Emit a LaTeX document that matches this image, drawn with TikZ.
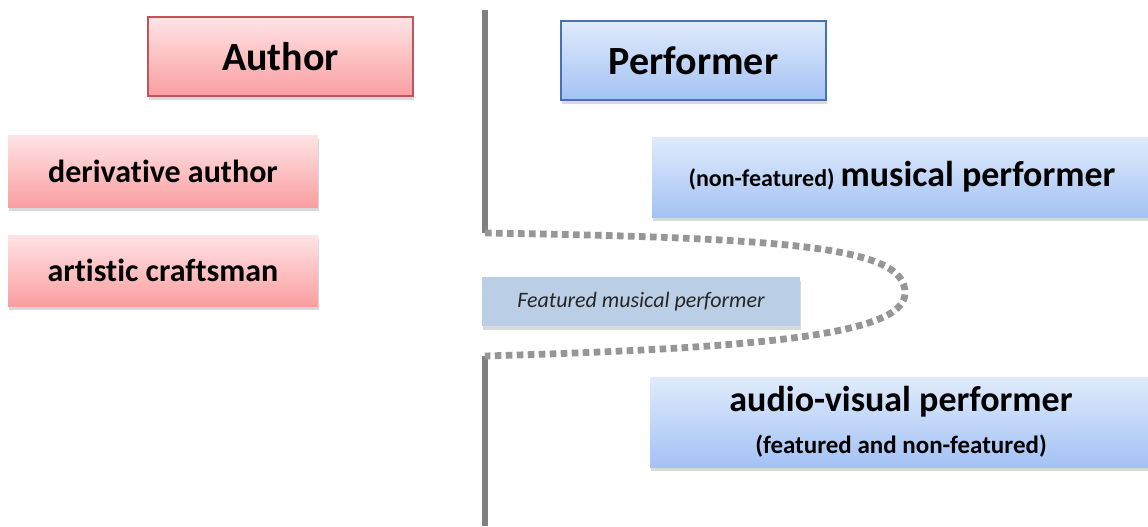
\documentclass[tikz,border=0pt]{standalone}
\usepackage{fontspec}
\setmainfont{Carlito}[Ligatures=NoCommon]
\usetikzlibrary{shadows}

\definecolor{rosetop}{RGB}{255,228,229}
\definecolor{rosebot}{RGB}{250,158,160}
\definecolor{roseline}{RGB}{190,85,88}
\definecolor{skytop}{RGB}{224,235,252}
\definecolor{skybot}{RGB}{163,194,244}
\definecolor{skyline}{RGB}{72,112,182}
\definecolor{steelfill}{RGB}{186,206,230}
\definecolor{divgray}{RGB}{128,128,128}
\definecolor{dotgray}{RGB}{150,150,150}

\tikzset{
  boxshadow/.style={drop shadow={opacity=0.3, shadow xshift=0.5pt, shadow yshift=-2pt}},
  redbox/.style={rectangle, inner sep=0pt, top color=rosetop, bottom color=rosebot,
    boxshadow, font=\bfseries\fontsize{16}{19}\selectfont},
  bluebox/.style={rectangle, inner sep=0pt, top color=skytop, bottom color=skybot,
    boxshadow, font=\bfseries\fontsize{18}{21}\selectfont, align=center},
  headbox/.style={font=\bfseries\fontsize{20}{24}\selectfont, line width=0.7pt},
  divider/.style={line width=2.8pt, divgray},
  dotline/.style={line width=3.4pt, dotgray, dash pattern=on 3.3pt off 2.2pt}
}

\begin{document}
\begin{tikzpicture}[x=0.5pt, y=-0.5pt]
  \useasboundingbox (0,0) rectangle (1148,526);

  % Author side
  \node[redbox, headbox, draw=roseline, minimum width=132.5pt, minimum height=39.5pt]
    (author) at (280.5,56.5) {Author};
  \node[redbox, minimum width=155pt, minimum height=36pt]
    (derivative) at (163,171) {derivative author};
  \node[redbox, minimum width=155pt, minimum height=35.5pt]
    (craftsman) at (163,270.5) {artistic craftsman};

  % Performer side
  \node[bluebox, headbox, draw=skyline, minimum width=132.5pt, minimum height=39.5pt]
    (performer) at (693.5,60.5) {Performer};
  \node[bluebox, minimum width=250pt, minimum height=40pt]
    (musical) at (902,177) {{\fontsize{12}{14}\selectfont(non-featured)}\,musical performer};
  \node[bluebox, minimum width=251pt, minimum height=45pt]
    (audiovisual) at (901,422)
    {audio-visual performer\\[0pt]{\fontsize{12.5}{15}\selectfont(featured and non-featured)}};

  % Featured performer in between
  \node[rectangle, inner sep=0pt, fill=steelfill, boxshadow, minimum width=159pt, minimum height=24.5pt,
    font=\itshape\fontsize{11}{13}\selectfont, text=black!85]
    (featured) at (641,301.5) {Featured musical performer};

  % Dividing line
  \coordinate (divtop) at (485,10);
  \coordinate (divup) at (485,233);
  \coordinate (tip) at (905,293);
  \coordinate (divlow) at (485,356);
  \coordinate (divbot) at (485,526);
  \draw[divider] (divtop) -- (divup);
  \draw[divider] (divlow) -- (divbot);
  \draw[dotline] (divup) .. controls (800,238) and (905,248) .. (tip)
    .. controls (905,335) and (760,348) .. (divlow);
\end{tikzpicture}
\end{document}
